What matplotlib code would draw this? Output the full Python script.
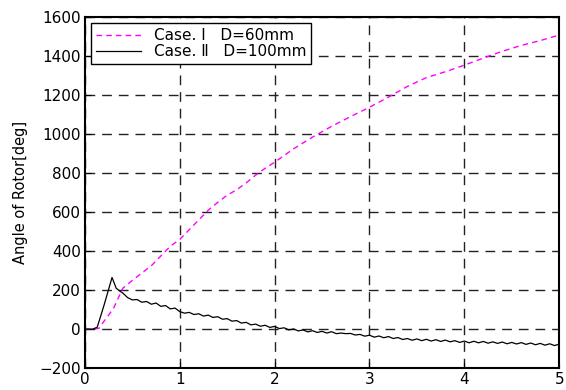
import matplotlib
matplotlib.use("Agg")
import matplotlib.pyplot as plt

plt.rcParams['font.family'] = ['DejaVu Sans', 'Noto Sans CJK JP']

# Case I  D=60mm
t1 = [0, 0.1, 0.15, 0.2, 0.3, 0.4, 0.5, 0.6, 0.7, 0.8, 0.9, 1.0, 1.1, 1.2, 1.3, 1.4,
      1.5, 1.6, 1.7, 1.8, 1.9, 2.0, 2.2, 2.4, 2.6, 2.8, 3.0, 3.2, 3.4, 3.6, 3.8,
      4.0, 4.2, 4.4, 4.6, 4.8, 5.0]
ang1 = [0, 0, 5, 40, 105, 210, 250, 288, 325, 375, 425, 460, 510, 560, 610, 650,
        687, 715, 750, 790, 825, 856, 925, 985, 1040, 1090, 1138, 1190, 1245, 1290, 1320,
        1354, 1390, 1425, 1455, 1480, 1508]

# Case II  D=100mm
t2 = [0, 0.08, 0.13, 0.2, 0.286, 0.33, 0.36, 0.40, 0.45, 0.50, 0.55, 0.60, 0.65, 0.70,
      0.75, 0.80, 0.85, 0.90, 0.95, 1.00, 1.05, 1.10, 1.15, 1.20, 1.25, 1.30, 1.35, 1.40,
      1.45, 1.50, 1.55, 1.60, 1.65, 1.70, 1.75, 1.80, 1.85, 1.90, 1.95, 2.00, 2.05, 2.10,
      2.15, 2.20, 2.25, 2.30, 2.35, 2.40, 2.45, 2.50, 2.55, 2.60, 2.65, 2.70, 2.75, 2.80,
      2.85, 2.90, 2.95, 3.00, 3.05, 3.10, 3.15, 3.20, 3.25, 3.30, 3.35, 3.40, 3.45, 3.50,
      3.55, 3.60, 3.65, 3.70, 3.75, 3.80, 3.85, 3.90, 3.95, 4.00, 4.05, 4.10, 4.15, 4.20,
      4.25, 4.30, 4.35, 4.40, 4.45, 4.50, 4.55, 4.60, 4.65, 4.70, 4.75, 4.80, 4.85, 4.90,
      4.95, 5.00]
ang2 = [0, 0, 10, 120, 265, 210, 198, 185, 162, 150, 152, 138, 142, 128,
        134, 117, 121, 104, 108, 90, 82, 86, 75, 79, 67, 72, 60, 64,
        51, 54, 41, 44, 31, 35, 22, 26, 15, 20, 9, 14, 3, 7,
        -4, 1, -9, -4, -14, -8, -17, -11, -20, -13, -23, -20, -23, -22,
        -30, -27, -36, -31, -41, -35, -44, -38, -48, -43, -53, -48, -57, -50,
        -59, -52, -61, -54, -63, -56, -65, -59, -68, -61, -70, -62, -70, -63,
        -72, -65, -73, -66, -75, -68, -76, -69, -78, -71, -80, -73, -82, -75,
        -84, -77]

fig = plt.figure(figsize=(5.66, 3.9), dpi=100)
ax = fig.add_axes([0.150, 0.056, 0.838, 0.900])

ax.plot(t1, ang1, color='#ff00ff', linestyle=(0, (4, 3)), linewidth=1.0,
        label='Case. Ⅰ   D=60mm')
ax.plot(t2, ang2, color='black', linewidth=0.9,
        label='Case. Ⅱ   D=100mm')

ax.set_xlim(0, 5)
ax.set_ylim(-200, 1600)
ax.set_xticks([0, 1, 2, 3, 4, 5])
ax.set_yticks(range(-200, 1601, 200))
ax.grid(True, color='#222222', linestyle=(0, (7, 5)), linewidth=1.0)
ax.tick_params(direction='in', labelsize=11, length=4, pad=3)
for s in ax.spines.values():
    s.set_linewidth(1.5)

ax.set_ylabel('Angle of Rotor[deg]', fontsize=10.5, labelpad=8)

leg = ax.legend(loc='upper left', fontsize=11, fancybox=False, framealpha=1,
                edgecolor='black', borderaxespad=0.4, handlelength=3.0,
                labelspacing=0.1, borderpad=0.3)
leg.get_frame().set_linewidth(1.0)

fig.savefig('out.png', dpi=100)
